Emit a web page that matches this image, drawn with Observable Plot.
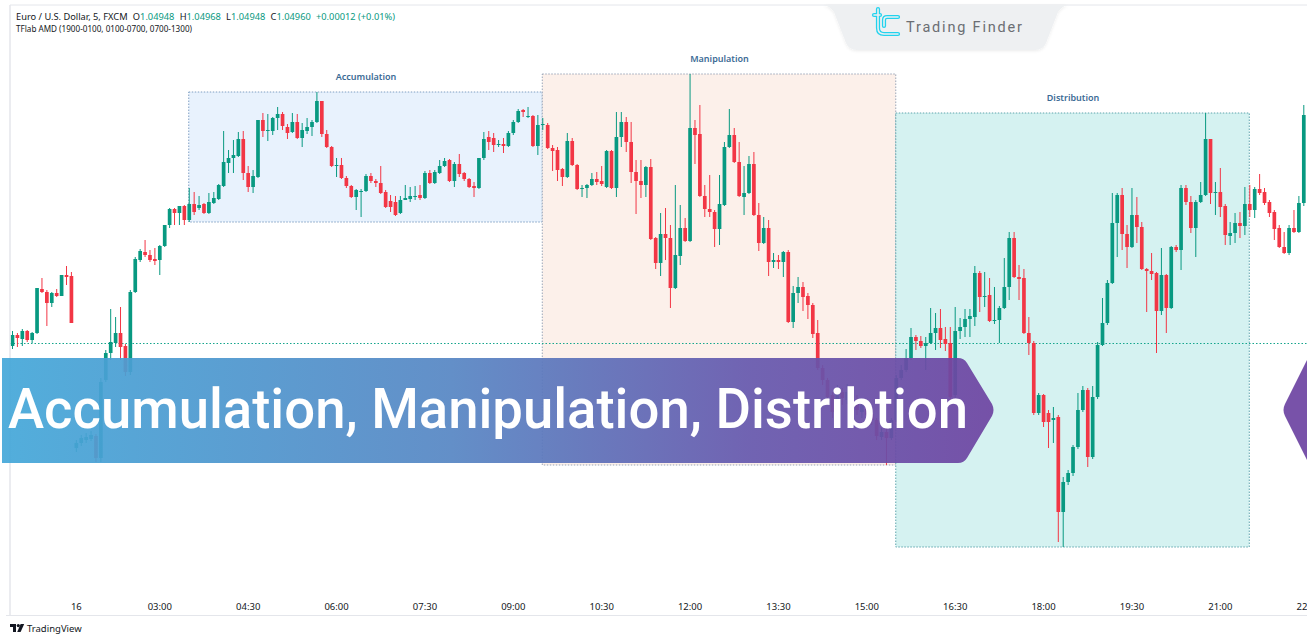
<!DOCTYPE html>
<html><head><meta charset="utf-8">
<script src="https://cdn.jsdelivr.net/npm/d3@7"></script>
<script src="https://cdn.jsdelivr.net/npm/@observablehq/plot@0.6"></script>
<style>
html,body{margin:0;padding:0;background:#fff;width:1307px;height:635px;overflow:hidden;}
#wrap{position:relative;width:1307px;height:635px;}
#chart{position:absolute;left:0;top:0;}
#deco{position:absolute;left:0;top:0;}
</style></head><body>
<div id="wrap"><div id="chart"></div>
<svg id="deco" width="1307" height="635" font-family="'Noto Sans', sans-serif">
<defs>
<linearGradient id="bannerGrad" x1="0" x2="1" y1="0" y2="0">
<stop offset="0" stop-color="#45a8d9"/><stop offset="0.45" stop-color="#5787c4"/><stop offset="0.75" stop-color="#6659ae"/><stop offset="1" stop-color="#6e45a2"/>
</linearGradient>
<filter id="tabShadow" x="-5%" y="-20%" width="110%" height="150%"><feDropShadow dx="0" dy="1" stdDeviation="1.5" flood-color="#000" flood-opacity="0.08"/></filter>
</defs>
<line x1="10" y1="5" x2="1307" y2="5" stroke="#e4e6eb"/>
<line x1="10" y1="5" x2="10" y2="615" stroke="#e4e6eb" stroke-width="1.5"/>
<line x1="6" y1="615.5" x2="1307" y2="615.5" stroke="#e4e6eb"/>
<path d="M2,358 H958 Q964,358 967,363 L992,404 Q995,410 992,416 L967,458 Q964,463 958,463 H2 Z" fill="url(#bannerGrad)" fill-opacity="0.93"/>
<text x="8" y="428" font-family="Roboto" font-weight="500" font-size="56" fill="#ffffff" textLength="960" lengthAdjust="spacingAndGlyphs">Accumulation, Manipulation, Distribtion</text>
<path d="M1307,360 L1285,404 Q1282,410 1285,416 L1307,460 Z" fill="#6e45a2" fill-opacity="0.93"/>
<path d="M823,5 L1068,5 Q1062,6 1058,12 L1046,43 Q1043,50 1035,50 L857,50 Q849,50 846,43 L834,12 Q830,6 823,5 Z" fill="#eef0f2" filter="url(#tabShadow)"/>
<g fill="none" stroke-linecap="round" stroke-linejoin="round">
<g stroke="#22d3ee" stroke-width="4.2">
<path d="M878,9 V28 Q878,34 884,34 H898"/><path d="M898,17 H887 Q884,17 884,20 V26"/><path d="M874,15 H880"/>
</g>
<g stroke="#eef0f2" stroke-width="1.6">
<path d="M878,9 V28 Q878,34 884,34 H898"/><path d="M898,17 H887 Q884,17 884,20 V26"/><path d="M874,15 H880"/>
</g>
</g>
<text x="906" y="32" font-family="Roboto" font-size="14.5" fill="#6b6e73" textLength="116" lengthAdjust="spacing">Trading Finder</text>
<text x="16" y="20" font-size="8.8" fill="#131722" textLength="379" lengthAdjust="spacingAndGlyphs">Euro / U.S. Dollar, 5, FXCM<tspan dx="5">O</tspan><tspan fill="#089981">1.04948</tspan><tspan dx="5">H</tspan><tspan fill="#089981">1.04968</tspan><tspan dx="5">L</tspan><tspan fill="#089981">1.04948</tspan><tspan dx="5">C</tspan><tspan fill="#089981">1.04960</tspan><tspan dx="5" fill="#089981">+0.00012 (+0.01%)</tspan></text>
<text x="16" y="32" font-size="8.8" fill="#131722" textLength="176" lengthAdjust="spacingAndGlyphs">TFlab AMD (1900-0100, 0100-0700, 0700-1300)</text>
<path d="M10,624 H16 V632 H13 V627 H10 Z" fill="#131722"/><circle cx="18.3" cy="625.6" r="1.6" fill="#131722"/><path d="M20.6,624 H24.2 L20.6,632 H17.2 Z" fill="#131722"/>
<text x="27" y="632" font-size="9.5" fill="#131722">TradingView</text>
</svg>
</div>
<script>
const openPrice = [1.04954,1.04965,1.04961,1.04969,1.04960,1.04967,1.05011,1.05008,1.04997,1.05007,
1.05004,1.05025,1.05024,1.04852,1.04857,1.04860,1.04861,1.04864,1.04842,1.04920,
1.04947,1.04957,1.04967,1.04954,1.04928,1.05008,1.05040,1.05048,1.05045,1.05041,
1.05040,1.05054,1.05075,1.05091,1.05087,1.05094,1.05080,1.05096,1.05092,1.05096,
1.05087,1.05097,1.05101,1.05114,1.05137,1.05142,1.05144,1.05161,1.05127,1.05113,
1.05123,1.05180,1.05169,1.05169,1.05182,1.05186,1.05173,1.05168,1.05178,1.05162,
1.05169,1.05173,1.05178,1.05199,1.05166,1.05153,1.05134,1.05135,1.05122,1.05114,
1.05103,1.05108,1.05109,1.05124,1.05119,1.05117,1.05108,1.05099,1.05098,1.05087,
1.05100,1.05101,1.05103,1.05105,1.05102,1.05127,1.05117,1.05127,1.05134,1.05140,
1.05119,1.05136,1.05127,1.05121,1.05114,1.05112,1.05142,1.05163,1.05162,1.05155,
1.05156,1.05154,1.05167,1.05178,1.05190,1.05183,1.05184,1.05154,1.05175,1.05175,
1.05152,1.05150,1.05131,1.05123,1.05159,1.05135,1.05111,1.05112,1.05115,1.05121,
1.05119,1.05113,1.05149,1.05112,1.05163,1.05178,1.05158,1.05128,1.05119,1.05115,
1.05133,1.05062,1.05037,1.05066,1.05062,1.05012,1.05044,1.05072,1.05059,1.05172,
1.05166,1.05104,1.05091,1.05088,1.05071,1.05095,1.05153,1.05165,1.05138,1.05103,
1.05107,1.05136,1.05085,1.05057,1.05072,1.05038,1.05040,1.05038,1.05048,1.04978,
1.05007,1.05013,1.05004,1.04995,1.04967,1.04932,1.04920,1.04905,1.04890,1.04908,
1.04900,1.04907,1.04897,1.04888,1.04895,1.04886,1.04880,1.04863,1.04868,1.04862,
1.04880,1.04922,1.04930,1.04942,1.04963,1.04959,1.04954,1.04957,1.04967,1.04972,
1.04961,1.04957,1.04905,1.04969,1.04973,1.04981,1.04983,1.05027,1.05003,1.05005,
1.04979,1.04980,1.04992,1.05013,1.05062,1.05023,1.05022,1.04967,1.04957,1.04887,
1.04905,1.04887,1.04880,1.04883,1.04788,1.04818,1.04827,1.04853,1.04890,1.04910,
1.04843,1.04903,1.04955,1.04977,1.05017,1.05077,1.05105,1.05066,1.05053,1.05085,
1.05073,1.05031,1.05029,1.05027,1.04989,1.05025,1.04992,1.05053,1.05050,1.05112,
1.05098,1.05072,1.05098,1.05105,1.05161,1.05107,1.05108,1.05094,1.05064,1.05067,
1.05077,1.05074,1.05096,1.05090,1.05111,1.05108,1.05098,1.05088,1.05072,1.05053,
1.05047,1.05072,1.05068,1.05097];
const highPrice = [1.04969,1.04967,1.04971,1.04970,1.04968,1.05012,1.05022,1.05010,1.05008,1.05011,
1.05025,1.05034,1.05028,1.04860,1.04865,1.04867,1.04869,1.04866,1.04922,1.04950,
1.04991,1.04983,1.04993,1.04956,1.05010,1.05043,1.05051,1.05060,1.05050,1.05052,
1.05055,1.05075,1.05092,1.05092,1.05094,1.05095,1.05112,1.05108,1.05104,1.05097,
1.05107,1.05108,1.05116,1.05169,1.05150,1.05160,1.05168,1.05169,1.05134,1.05130,
1.05180,1.05187,1.05186,1.05183,1.05193,1.05188,1.05176,1.05187,1.05186,1.05177,
1.05182,1.05180,1.05208,1.05199,1.05170,1.05154,1.05142,1.05142,1.05124,1.05115,
1.05111,1.05111,1.05126,1.05127,1.05121,1.05134,1.05110,1.05105,1.05104,1.05104,
1.05115,1.05113,1.05114,1.05115,1.05129,1.05130,1.05130,1.05140,1.05142,1.05141,
1.05138,1.05146,1.05128,1.05122,1.05118,1.05142,1.05168,1.05169,1.05167,1.05160,
1.05162,1.05169,1.05180,1.05191,1.05191,1.05193,1.05185,1.05185,1.05182,1.05177,
1.05155,1.05153,1.05132,1.05167,1.05162,1.05136,1.05115,1.05116,1.05127,1.05128,
1.05134,1.05150,1.05150,1.05188,1.05188,1.05183,1.05178,1.05140,1.05140,1.05134,
1.05141,1.05063,1.05087,1.05092,1.05075,1.05115,1.05095,1.05082,1.05226,1.05180,
1.05195,1.05115,1.05125,1.05090,1.05125,1.05158,1.05191,1.05172,1.05158,1.05134,
1.05144,1.05148,1.05097,1.05083,1.05080,1.05047,1.05045,1.05049,1.05050,1.05014,
1.05023,1.05018,1.05007,1.04997,1.04980,1.04935,1.04922,1.04908,1.04915,1.04912,
1.04916,1.04913,1.04905,1.04902,1.04900,1.04892,1.04882,1.04872,1.04872,1.04882,
1.04925,1.04935,1.04951,1.04972,1.04965,1.04964,1.04963,1.04992,1.04987,1.04991,
1.04973,1.04973,1.04993,1.04982,1.04991,1.04991,1.05034,1.05029,1.05028,1.05022,
1.05013,1.04994,1.05042,1.05068,1.05068,1.05035,1.05031,1.04983,1.04959,1.04907,
1.04906,1.04890,1.04893,1.04885,1.04823,1.04830,1.04855,1.04907,1.04914,1.04912,
1.04914,1.04958,1.05002,1.05020,1.05107,1.05107,1.05112,1.05075,1.05112,1.05103,
1.05078,1.05032,1.05047,1.05028,1.05052,1.05026,1.05054,1.05055,1.05115,1.05115,
1.05104,1.05100,1.05118,1.05187,1.05161,1.05118,1.05132,1.05096,1.05078,1.05087,
1.05088,1.05113,1.05115,1.05113,1.05126,1.05112,1.05100,1.05090,1.05075,1.05068,
1.05075,1.05090,1.05104,1.05195];
const lowPrice = [1.04951,1.04953,1.04954,1.04958,1.04957,1.04966,1.05007,1.04974,1.04993,1.05003,
1.05004,1.05015,1.04977,1.04848,1.04854,1.04857,1.04859,1.04838,1.04838,1.04918,
1.04940,1.04953,1.04940,1.04924,1.04925,1.05007,1.05038,1.05043,1.05038,1.05035,
1.05025,1.05053,1.05072,1.05075,1.05075,1.05075,1.05078,1.05085,1.05090,1.05086,
1.05086,1.05096,1.05100,1.05113,1.05127,1.05127,1.05143,1.05120,1.05108,1.05107,
1.05122,1.05163,1.05159,1.05165,1.05170,1.05170,1.05161,1.05167,1.05161,1.05153,
1.05166,1.05164,1.05177,1.05163,1.05152,1.05133,1.05123,1.05121,1.05112,1.05102,
1.05090,1.05083,1.05108,1.05117,1.05113,1.05106,1.05092,1.05088,1.05084,1.05086,
1.05100,1.05098,1.05100,1.05100,1.05101,1.05116,1.05116,1.05126,1.05133,1.05118,
1.05113,1.05123,1.05119,1.05112,1.05103,1.05111,1.05140,1.05150,1.05148,1.05153,
1.05147,1.05153,1.05165,1.05177,1.05183,1.05182,1.05153,1.05145,1.05170,1.05151,
1.05129,1.05119,1.05114,1.05122,1.05134,1.05110,1.05103,1.05102,1.05114,1.05115,
1.05114,1.05112,1.05111,1.05103,1.05153,1.05148,1.05117,1.05086,1.05102,1.05103,
1.05060,1.05031,1.05024,1.05040,1.04992,1.05011,1.05035,1.05058,1.05058,1.05136,
1.05103,1.05083,1.05083,1.05053,1.05055,1.05094,1.05152,1.05137,1.05103,1.05085,
1.05106,1.05084,1.05049,1.05056,1.05024,1.05032,1.05031,1.05023,1.04977,1.04972,
1.04997,1.04989,1.04981,1.04962,1.04930,1.04915,1.04898,1.04882,1.04886,1.04895,
1.04896,1.04890,1.04885,1.04882,1.04880,1.04875,1.04860,1.04860,1.04835,1.04860,
1.04878,1.04920,1.04928,1.04940,1.04950,1.04952,1.04930,1.04956,1.04950,1.04952,
1.04949,1.04900,1.04902,1.04961,1.04963,1.04963,1.04974,1.04988,1.04993,1.04978,
1.04976,1.04957,1.04991,1.05000,1.05022,1.05000,1.04966,1.04945,1.04885,1.04885,
1.04873,1.04852,1.04857,1.04758,1.04753,1.04815,1.04824,1.04851,1.04888,1.04833,
1.04841,1.04901,1.04954,1.04975,1.05016,1.05043,1.05050,1.05032,1.05052,1.05057,
1.05030,1.04988,1.05020,1.04947,1.04985,1.04967,1.04991,1.05048,1.05030,1.05095,
1.05067,1.05043,1.05097,1.05104,1.05096,1.05085,1.05083,1.05055,1.05055,1.05057,
1.05062,1.05065,1.05083,1.05082,1.05105,1.05095,1.05083,1.05060,1.05052,1.05046,
1.05045,1.05067,1.05067,1.05094];
const closePrice = [1.04965,1.04962,1.04969,1.04960,1.04967,1.05012,1.05008,1.04997,1.05007,1.05004,
1.05025,1.05023,1.04977,1.04857,1.04862,1.04863,1.04865,1.04842,1.04918,1.04947,
1.04958,1.04967,1.04953,1.04928,1.05008,1.05041,1.05049,1.05045,1.05040,1.05039,
1.05054,1.05075,1.05091,1.05087,1.05094,1.05080,1.05096,1.05088,1.05095,1.05087,
1.05098,1.05102,1.05115,1.05138,1.05142,1.05145,1.05161,1.05127,1.05113,1.05124,
1.05180,1.05169,1.05170,1.05182,1.05186,1.05174,1.05167,1.05178,1.05162,1.05170,
1.05173,1.05178,1.05199,1.05166,1.05153,1.05134,1.05135,1.05122,1.05114,1.05103,
1.05110,1.05109,1.05124,1.05119,1.05117,1.05107,1.05093,1.05093,1.05085,1.05100,
1.05102,1.05104,1.05104,1.05102,1.05127,1.05117,1.05128,1.05134,1.05139,1.05119,
1.05136,1.05126,1.05121,1.05113,1.05112,1.05142,1.05161,1.05158,1.05155,1.05156,
1.05154,1.05167,1.05178,1.05189,1.05188,1.05184,1.05154,1.05175,1.05176,1.05152,
1.05149,1.05130,1.05123,1.05159,1.05135,1.05111,1.05112,1.05115,1.05121,1.05118,
1.05116,1.05149,1.05112,1.05163,1.05178,1.05158,1.05128,1.05119,1.05115,1.05133,
1.05061,1.05037,1.05066,1.05062,1.05012,1.05045,1.05072,1.05059,1.05172,1.05165,
1.05104,1.05091,1.05088,1.05071,1.05096,1.05153,1.05165,1.05138,1.05104,1.05107,
1.05136,1.05085,1.05057,1.05072,1.05038,1.05040,1.05038,1.05048,1.04978,1.05007,
1.05013,1.05003,1.04995,1.04966,1.04932,1.04920,1.04903,1.04888,1.04908,1.04902,
1.04908,1.04897,1.04890,1.04895,1.04885,1.04880,1.04864,1.04868,1.04862,1.04880,
1.04922,1.04930,1.04942,1.04963,1.04959,1.04954,1.04957,1.04967,1.04972,1.04960,
1.04956,1.04903,1.04969,1.04973,1.04981,1.04984,1.05027,1.05003,1.05004,1.04979,
1.04980,1.04992,1.05013,1.05062,1.05023,1.05021,1.04967,1.04957,1.04887,1.04905,
1.04878,1.04878,1.04882,1.04788,1.04818,1.04827,1.04853,1.04890,1.04910,1.04843,
1.04903,1.04955,1.04977,1.05017,1.05077,1.05105,1.05066,1.05053,1.05085,1.05073,
1.05031,1.05029,1.05026,1.04989,1.05025,1.04992,1.05053,1.05050,1.05112,1.05098,
1.05072,1.05098,1.05105,1.05161,1.05107,1.05108,1.05093,1.05065,1.05067,1.05077,
1.05074,1.05096,1.05090,1.05111,1.05107,1.05097,1.05087,1.05071,1.05053,1.05047,
1.05072,1.05068,1.05097,1.05185];

const tickIndex = [13,30,48,66,84,102,120,138,156,174,192,210,228,246,264];
const tickLabel = ["16","03:00","04:30","06:00","07:30","09:00","10:30","12:00","13:30","15:00","16:30","18:00","19:30","21:00","22:30"];

const sessionName = ["Accumulation","Manipulation","Distribution"];
const sessionStart = [36,108,180];
const sessionEnd = [108,180,252];
const sessionFill = ["#e8f2fd","#fcf0ea","#d5f2f1"];
const sessionStroke = ["#7f9fc2","#9aa6b8","#5fa5ad"];

const priceLine = 1.04957;

const UP = "#089981", DOWN = "#f23645";
const candles = openPrice.map((o, i) => ({
  i, open: o, high: highPrice[i], low: lowPrice[i], close: closePrice[i],
  color: closePrice[i] >= o ? UP : DOWN
}));
const sessions = sessionName.map((name, k) => {
  const seg = candles.slice(sessionStart[k], sessionEnd[k]);
  return {name, start: sessionStart[k], end: sessionEnd[k],
    high: d3.max(seg, d => d.high), low: d3.min(seg, d => d.low),
    fill: sessionFill[k], stroke: sessionStroke[k]};
});
const tickText = new Map(tickIndex.map((t, k) => [t, tickLabel[k]]));

const chart = Plot.plot({
  width: 1307, height: 635,
  marginLeft: 10, marginRight: 0, marginTop: 40, marginBottom: 37,
  style: {background: "transparent", fontFamily: "'Noto Sans', sans-serif", fontSize: "9.5px", color: "#131722", overflow: "visible"},
  x: {domain: [0, 263], range: [12, 1303.3]},
  y: {domain: [1.047, 1.0526], range: [600, 40], axis: null},
  color: {type: "identity"},
  marks: [
    Plot.rect(sessions, {x1: "start", x2: "end", y1: "low", y2: "high", fill: "fill", stroke: "stroke", strokeDasharray: "1.5,1.5"}),
    Plot.text(sessions, {x: d => (d.start + d.end) / 2, y: "high", dy: -15, text: "name", fill: "#3b6b95", fontSize: 9, fontWeight: 600}),
    Plot.ruleY([priceLine], {stroke: "#14a58c", strokeWidth: 1.1, strokeDasharray: "1.5,2"}),
    Plot.ruleX(candles, {x: "i", y1: "low", y2: "high", stroke: "color", strokeWidth: 1}),
    Plot.ruleX(candles, {x: "i", y1: "open", y2: "close", stroke: "color", strokeWidth: 3.7}),
    Plot.axisX(tickIndex, {tickSize: 0, tickPadding: 5, tickFormat: d => tickText.get(d), fill: "#131722", fontSize: 9.5})
  ]
});
document.getElementById("chart").appendChild(chart);
</script>
</body></html>
